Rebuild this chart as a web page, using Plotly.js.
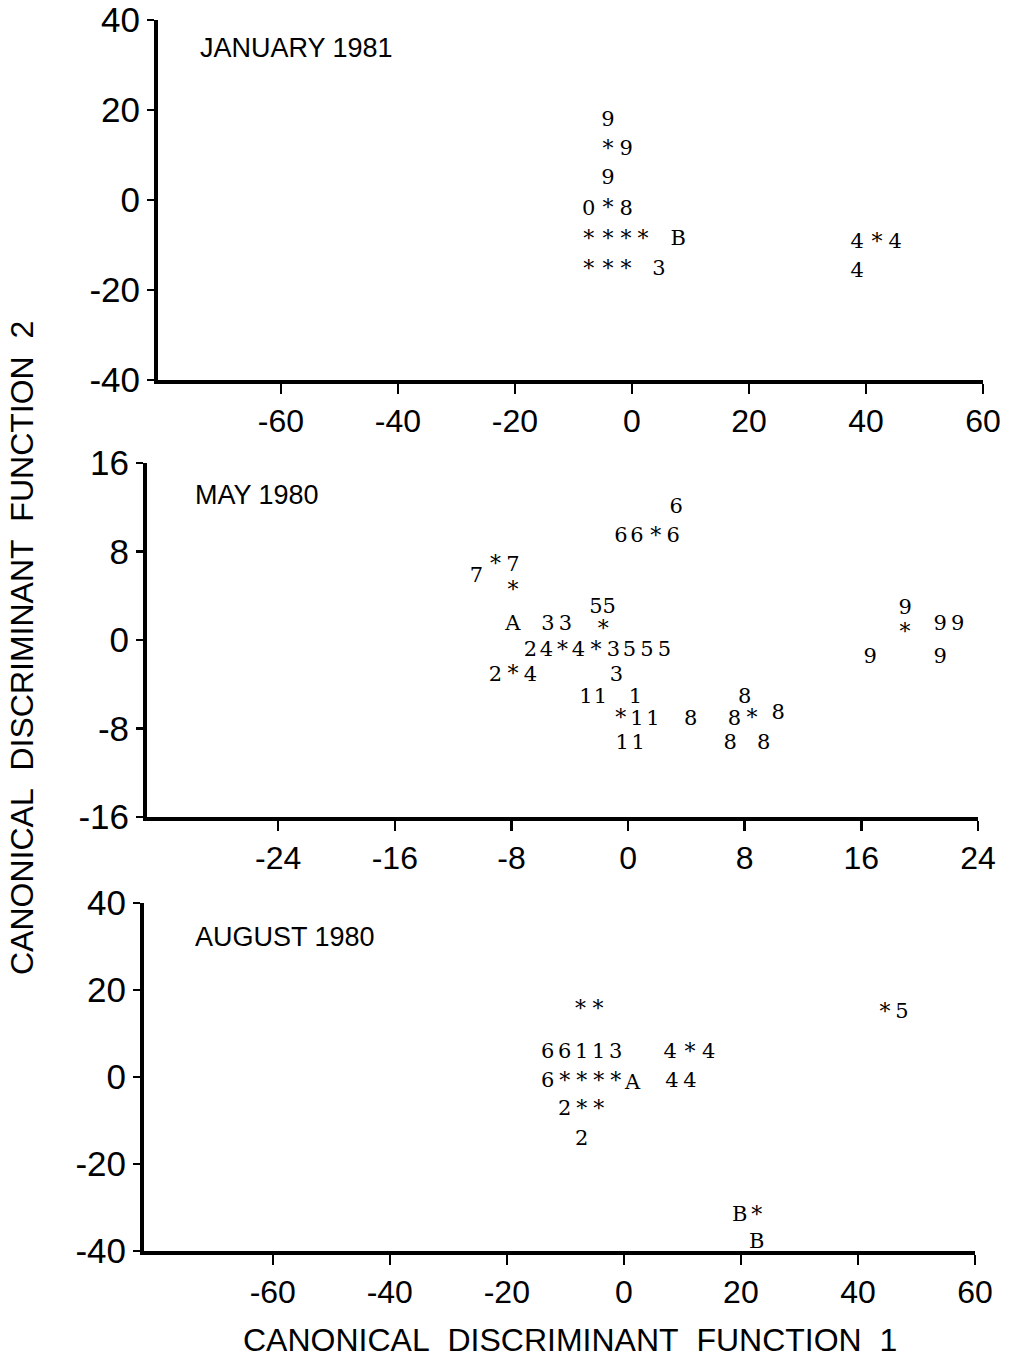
<!DOCTYPE html>
<html>
<head>
<meta charset="utf-8">
<script src="https://cdn.plot.ly/plotly-3.0.1.min.js"></script>
<style>
  html, body { margin: 0; padding: 0; background: #fff; }
  #chart { width: 1017px; height: 1368px; }
</style>
</head>
<body>
<div id="chart"></div>
<script>
// ---------- DATA ----------
// January 1981 panel: plotted symbols (group numbers, * = group centroid)
const janX = [-4.1, -4.1, -1.0, -4.1, -7.4, -4.1, -1.0, -7.4, -4.1, -1.0, 1.9, 7.9, -7.4, -4.1, -1.0, 4.6, 38.5, 41.9, 45.0, 38.5];
const janY = [17.6, 11.1, 11.1, 4.7, -2.2, -2.2, -2.2, -8.9, -8.9, -8.9, -8.9, -8.9, -15.6, -15.6, -15.6, -15.6, -9.6, -9.6, -9.6, -16.0];
const janSym = ['9', '*', '9', '9', '0', '*', '8', '*', '*', '*', '*', 'B', '*', '*', '*', '3', '4', '*', '4', '4'];

// May 1980 panel
const mayX = [3.3, -0.5, 0.6, 1.9, 3.1, -10.4, -9.1, -7.9, -7.9, -7.9, -5.5, -4.3, -2.2, -1.3, -1.7,
              -6.7, -5.6, -4.5, -3.4, -2.2, -1.0, 0.1, 1.3, 2.5,
              -9.1, -7.9, -6.7, -0.8, -2.9, -1.9, 0.5, 8.0,
              -0.5, 0.6, 1.7, 4.3, 7.3, 8.5, 10.3, -0.4, 0.7, 7.0, 9.3,
              19.0, 19.0, 21.4, 22.6, 16.6, 21.4];
const mayY = [12.0, 9.3, 9.3, 9.3, 9.3, 5.7, 6.7, 6.7, 4.4, 1.4, 1.4, 1.4, 2.9, 2.9, 0.9,
              -1.0, -1.0, -1.0, -1.0, -1.0, -1.0, -1.0, -1.0, -1.0,
              -3.2, -3.2, -3.2, -3.2, -5.2, -5.2, -5.2, -5.2,
              -7.2, -7.2, -7.2, -7.2, -7.2, -7.2, -6.7, -9.4, -9.4, -9.4, -9.4,
              2.8, 0.6, 1.4, 1.4, -1.6, -1.6];
const maySym = ['6', '6', '6', '*', '6', '7', '*', '7', '*', 'A', '3', '3', '5', '5', '*',
                '2', '4', '*', '4', '*', '3', '5', '5', '5',
                '2', '*', '4', '3', '1', '1', '1', '8',
                '*', '1', '1', '8', '8', '*', '8', '1', '1', '8', '8',
                '9', '*', '9', '9', '9', '9'];

// August 1980 panel
const augX = [-7.4, -4.4, -13.0, -10.1, -7.2, -4.3, -1.4, 7.9, 11.3, 14.5,
              -13.0, -10.1, -7.2, -4.3, -1.4, 1.5, 8.2, 11.3,
              -10.1, -7.2, -4.3, -7.2, 44.6, 47.5, 19.8, 22.7, 22.7];
const augY = [15.4, 15.4, 5.5, 5.5, 5.5, 5.5, 5.5, 5.5, 5.5, 5.5,
              -1.2, -1.2, -1.2, -1.2, -1.2, -1.6, -1.2, -1.2,
              -7.6, -7.6, -7.6, -14.5, 14.7, 14.7, -32.0, -32.0, -38.0];
const augSym = ['*', '*', '6', '6', '1', '1', '3', '4', '*', '4',
                '6', '*', '*', '*', '*', 'A', '4', '4',
                '2', '*', '*', '2', '*', '5', 'B', '*', 'B'];

// Axis ticks
const fn1Ticks = [-60, -40, -20, 0, 20, 40, 60];
const fn2TicksWide = [-40, -20, 0, 20, 40];
const mayXTicks = [-24, -16, -8, 0, 8, 16, 24];
const mayYTicks = [-16, -8, 0, 8, 16];

const panelTitles = ['JANUARY 1981', 'MAY 1980', 'AUGUST 1980'];
const xTitle = 'CANONICAL\u00a0 DISCRIMINANT\u00a0 FUNCTION\u00a0 1';
const yTitle = 'CANONICAL\u00a0 DISCRIMINANT\u00a0 FUNCTION\u00a0 2';

// ---------- STYLE / LAYOUT ----------
const W = 1017, H = 1368;
const sans = 'Liberation Sans, Arial, sans-serif';
const symSizes = s => s.map(c => (c === '*' ? 22 : 21));
const symFont = s => ({family: 'DejaVu Serif, serif', size: symSizes(s), color: '#000'});

function tr(x, y, t, xa, ya) {
  return {x: x, y: y, text: t, mode: 'text', type: 'scatter', textposition: 'middle center',
          textfont: symFont(t), xaxis: xa, yaxis: ya, hoverinfo: 'skip', cliponaxis: false, showlegend: false};
}
function ax(range, ticks, domain, extra) {
  return Object.assign({
    range: range, domain: domain, tickmode: 'array', tickvals: ticks,
    ticktext: ticks.map(v => String(v)), showgrid: false, zeroline: false,
    showline: true, linecolor: '#000', linewidth: 4, ticks: 'outside', ticklen: 10,
    tickwidth: 2.5, tickcolor: '#000', tickfont: {family: sans, size: 32, color: '#000'}, fixedrange: true
  }, extra || {});
}
const yTick = {family: sans, size: 35, color: '#000'};
const hx = (a, b) => [a / W, b / W];
const vy = (top, bot) => [1 - bot / H, 1 - top / H];
const titleFont = {family: sans, size: 27, color: '#000'};
const axTitleFont = {family: sans, size: 32, color: '#000'};

const layout = {
  width: W, height: H, margin: {l: 0, r: 0, t: 0, b: 0},
  paper_bgcolor: '#fff', plot_bgcolor: 'rgba(0,0,0,0)', showlegend: false,
  xaxis: ax([-81, 60], fn1Ticks, hx(158, 983), {anchor: 'y'}),
  yaxis: ax([-40, 40], fn2TicksWide, vy(20, 380), {anchor: 'x', ticklen: 7, tickfont: yTick}),
  xaxis2: ax([-33, 24], mayXTicks, hx(147, 978), {anchor: 'y2'}),
  yaxis2: ax([-16, 16], mayYTicks, vy(463, 817), {anchor: 'x2', ticklen: 7, tickfont: yTick}),
  xaxis3: ax([-82, 60], fn1Ticks, hx(144, 975), {anchor: 'y3'}),
  yaxis3: ax([-40, 40], fn2TicksWide, vy(903, 1251), {anchor: 'x3', ticklen: 7, tickfont: yTick}),
  annotations: [
    {text: panelTitles[0], xref: 'paper', yref: 'paper', x: 198 / W, y: 1 - 48 / H, xanchor: 'left', yanchor: 'middle', showarrow: false, font: titleFont},
    {text: panelTitles[1], xref: 'paper', yref: 'paper', x: 193 / W, y: 1 - 495 / H, xanchor: 'left', yanchor: 'middle', showarrow: false, font: titleFont},
    {text: panelTitles[2], xref: 'paper', yref: 'paper', x: 193 / W, y: 1 - 937 / H, xanchor: 'left', yanchor: 'middle', showarrow: false, font: titleFont},
    {text: yTitle, xref: 'paper', yref: 'paper', x: 22 / W, y: 1 - 648 / H, xanchor: 'center', yanchor: 'middle', textangle: -90, showarrow: false, font: axTitleFont},
    {text: xTitle, xref: 'paper', yref: 'paper', x: 570 / W, y: 1 - 1340 / H, xanchor: 'center', yanchor: 'middle', showarrow: false, font: axTitleFont}
  ]
};

const data = [
  tr(janX, janY, janSym, 'x', 'y'),
  tr(mayX, mayY, maySym, 'x2', 'y2'),
  tr(augX, augY, augSym, 'x3', 'y3')
];

Plotly.newPlot('chart', data, layout, {staticPlot: true, displayModeBar: false});
</script>
</body>
</html>
